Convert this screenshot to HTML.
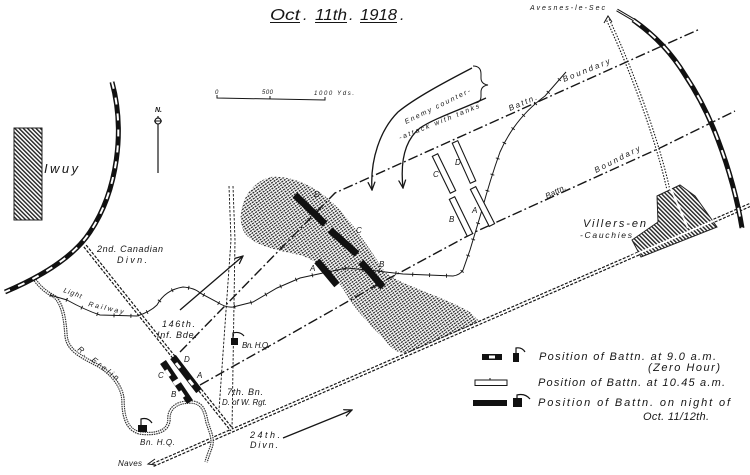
<!DOCTYPE html>
<html><head><meta charset="utf-8"><style>
html,body{margin:0;padding:0;background:#fff;width:750px;height:475px;overflow:hidden}
svg{display:block}
text{font-family:"Liberation Sans",sans-serif;font-style:italic;fill:#161616}
</style></head><body>
<svg width="750" height="475" viewBox="0 0 750 475" xmlns="http://www.w3.org/2000/svg">
<defs>
<pattern id="hatch" width="3" height="3" patternUnits="userSpaceOnUse" patternTransform="rotate(-45)">
<rect width="3" height="3" fill="#fff"/><rect width="1.4" height="3" fill="#222"/>
</pattern>
<pattern id="stip" width="3" height="2.5" patternUnits="userSpaceOnUse" patternTransform="rotate(-35)">
<rect width="3" height="2.5" fill="#fff"/><rect width="2.1" height="1.3" fill="#222"/>
</pattern>
<marker id="ar" viewBox="0 0 10 10" refX="9" refY="5" markerWidth="9" markerHeight="9" markerUnits="userSpaceOnUse" orient="auto"><path d="M0,1 L9,5 L0,9" fill="none" stroke="#161616" stroke-width="1.4"/></marker>
</defs>
<rect width="750" height="475" fill="#fff"/>

<!-- Title -->
<text x="270" y="20" font-size="16" textLength="30" lengthAdjust="spacingAndGlyphs">Oct</text>
<text x="303" y="20" font-size="16">.</text>
<text x="315" y="20" font-size="16" textLength="32" lengthAdjust="spacingAndGlyphs">11th</text>
<text x="349" y="20" font-size="16">.</text>
<text x="360" y="20" font-size="16" textLength="37" lengthAdjust="spacingAndGlyphs">1918</text>
<text x="400" y="20" font-size="16">.</text>
<g stroke="#161616" stroke-width="1">
<line x1="270" y1="22.5" x2="300" y2="22.5"/><line x1="315" y1="22.5" x2="347" y2="22.5"/><line x1="360" y1="22.5" x2="397" y2="22.5"/>
</g>

<!-- Iwuy -->
<rect x="14" y="128" width="28" height="92" fill="url(#hatch)" stroke="#222" stroke-width="1"/>
<text x="44" y="173" font-size="13" textLength="34">Iwuy</text>

<!-- North arrow -->
<line x1="158" y1="116" x2="158" y2="173" stroke="#161616" stroke-width="1.2"/>
<circle cx="158" cy="121" r="3" fill="#fff" stroke="#161616" stroke-width="1.2"/>
<line x1="154" y1="121" x2="162" y2="121" stroke="#161616" stroke-width="1"/>
<text x="155" y="112" font-size="7" font-weight="bold">N.</text>

<!-- Scale -->
<path d="M217,95 L217,98 L325,100 L325,97 M270,99 L270,96" fill="none" stroke="#161616" stroke-width="1"/>
<text x="215" y="94" font-size="6">0</text>
<text x="262" y="94" font-size="6" textLength="11">500</text>
<text x="314" y="95" font-size="6" textLength="40">1000 Yds.</text>

<!-- Hill stipple -->
<path d="M270,177 C290,175 315,185 335,205 C355,225 370,250 385,272 C400,285 440,295 470,312 L480,322 C465,330 440,338 415,352 C400,356 392,350 385,340 C370,325 355,310 345,292 C335,275 320,262 300,255 C275,250 250,245 243,230 C236,212 245,185 270,177 Z" fill="url(#stip)"/>

<!-- Roads (double dashed) -->
<g fill="none">
<path d="M153,465 L750,205" stroke="#161616" stroke-width="4.2" stroke-dasharray="3 1.5"/>
<path d="M153,465 L750,205" stroke="#fff" stroke-width="1.8"/>
<path d="M85,246 L232,430" stroke="#161616" stroke-width="4.2" stroke-dasharray="3 1.5"/>
<path d="M85,246 L232,430" stroke="#fff" stroke-width="1.8"/>
<path d="M229,186 L231,240 L219,410" stroke="#161616" stroke-width="0.9" stroke-dasharray="2.5 1.5"/>
<path d="M233,186 L235,240 L232,430" stroke="#161616" stroke-width="0.9" stroke-dasharray="2.5 1.5"/>
<path d="M608,20 C625,55 655,130 668,188" stroke="#161616" stroke-width="4" stroke-dasharray="1.5 1.5"/>
<path d="M608,20 C625,55 655,130 668,188" stroke="#fff" stroke-width="1.8"/>
<path d="M604,23 L608,16 L612,22" stroke="#161616" stroke-width="1"/>
<path d="M155,459 L148,464 L156,465" stroke="#161616" stroke-width="1"/>
</g>

<!-- Villers -->
<path d="M657,196 L680,185 L695,196 L717,227 L641,257 L632,240 L658,222 Z" fill="url(#hatch)" stroke="#222" stroke-width="1"/>
<line x1="670" y1="187" x2="688" y2="228" stroke="#fff" stroke-width="2"/>
<line x1="632" y1="256" x2="718" y2="219" stroke="#fff" stroke-width="2"/>

<!-- River -->
<path d="M35,280 C42,290 50,294 55,297 C63,305 65,320 66,335 C67,350 80,356 97,365 C110,372 122,385 123,400 C123,415 126,430 140,433 C155,435 168,432 169,420 C168,410 175,402 190,402 C203,402 205,412 207,422 C210,432 215,440 210,450 L206,462" fill="none" stroke="#333" stroke-width="3.5" stroke-dasharray="1.5 0.8"/>
<path d="M35,280 C42,290 50,294 55,297 C63,305 65,320 66,335 C67,350 80,356 97,365 C110,372 122,385 123,400 C123,415 126,430 140,433 C155,435 168,432 169,420 C168,410 175,402 190,402 C203,402 205,412 207,422 C210,432 215,440 210,450 L206,462" fill="none" stroke="#fff" stroke-width="1.2"/>

<!-- Railway arcs -->
<path d="M112,82 C125,130 118,190 90,232 C75,255 45,275 5,292" fill="none" stroke="#111" stroke-width="5"/>
<path d="M112,82 C125,130 118,190 90,232 C75,255 45,275 5,292" fill="none" stroke="#fff" stroke-width="2" stroke-dasharray="7 9"/>
<path d="M633,20 Q665,42 685,75 Q705,105 718,140 Q735,185 742,228" fill="none" stroke="#111" stroke-width="5"/>
<path d="M633,20 Q665,42 685,75 Q705,105 718,140 Q735,185 742,228" fill="none" stroke="#fff" stroke-width="2" stroke-dasharray="9 11"/>
<path d="M617,10 L634,20" stroke="#111" stroke-width="3"/>
<path d="M617,10 L634,20" stroke="#fff" stroke-width="1"/>

<!-- Light railway -->
<path d="M50,295 L67,300 Q85,310 100,315 L137,316 Q150,312 157,305 Q165,290 183,287 Q195,288 200,293 L217,302 Q226,308 233,307 L253,302 L277,288 L300,278 L323,273 L347,268 L377,271 L403,274 L453,276 Q460,275 463,270 L470,250 L482,210 Q490,180 500,152 Q515,118 545,96 L566,72" fill="none" stroke="#161616" stroke-width="1"/>
<path d="M50,295 L67,300 Q85,310 100,315 L137,316 Q150,312 157,305 Q165,290 183,287 Q195,288 200,293 L217,302 Q226,308 233,307 L253,302 L277,288 L300,278 L323,273 L347,268 L377,271 L403,274 L453,276 Q460,275 463,270 L470,250 L482,210 Q490,180 500,152 Q515,118 545,96 L566,72" fill="none" stroke="#161616" stroke-width="4" stroke-dasharray="0.9 16"/>

<!-- Boundaries -->
<g fill="none" stroke="#161616" stroke-width="1.4" stroke-dasharray="10 3 1.8 3">
<path d="M180,352 L335,193 L682,37 L700,29"/>
<path d="M200,385 L280,340 L375,286 L475,232 L662,147 L735,111"/>
</g>

<!-- Arrows -->
<g fill="none" stroke="#161616" stroke-width="1.3" marker-end="url(#ar)">
<path d="M180,310 L243,256"/>
<path d="M283,438 L352,410"/>
<path d="M472,68 C445,82 415,98 398,112 C380,130 370,160 372,190"/>
<path d="M486,98 C460,110 435,118 420,128 C405,140 400,160 403,188"/>
</g>
<path d="M473,66 Q481,66 481,74 L481,78 Q481,84 488,85 Q481,86 481,92 L481,96 Q481,103 474,103" fill="none" stroke="#161616" stroke-width="1"/>

<!-- Night positions -->
<g stroke="#111" stroke-width="7">
<line x1="295" y1="195" x2="325" y2="224"/>
<line x1="330" y1="230" x2="357" y2="254"/>
<line x1="361" y1="262" x2="383" y2="287"/>
<line x1="317" y1="261" x2="337" y2="285"/>
</g>

<!-- 9 am positions -->
<g stroke="#111" stroke-width="7">
<line x1="163" y1="362" x2="190" y2="402"/>
<line x1="173" y1="357" x2="199" y2="391"/>
</g>
<g stroke="#fff" stroke-width="3">
<line x1="166" y1="370" x2="170" y2="376"/><line x1="180" y1="391" x2="184" y2="397"/>
<line x1="176" y1="363" x2="180" y2="368"/><line x1="189" y1="380" x2="193" y2="385"/>
</g>
<line x1="175.5" y1="380" x2="178" y2="384" stroke="#fff" stroke-width="7"/>

<!-- 10.45 positions -->
<g fill="#fff" stroke="#161616" stroke-width="1.1">
<rect x="-20.5" y="-3" width="41" height="6" transform="translate(444,173.5) rotate(64)"/>
<rect x="-22" y="-3" width="44" height="6" transform="translate(464,162) rotate(65.8)"/>
<rect x="-20.5" y="-3" width="41" height="6" transform="translate(461,216.5) rotate(64)"/>
<rect x="-20.8" y="-3" width="41.6" height="6" transform="translate(482.5,206.5) rotate(63)"/>
</g>

<!-- HQ icons -->
<g fill="#111" stroke="#111" stroke-width="1.2">
<rect x="231" y="338" width="7" height="7" stroke="none"/>
<path d="M233,338 L233,333 Q240,331 244,336" fill="none"/>
<rect x="138" y="425" width="9" height="7" stroke="none"/>
<path d="M141,425 L141,419 Q148,417 152,423" fill="none"/>
</g>

<!-- Labels -->
<g font-size="8">
<text x="314" y="197">D</text><text x="356" y="233">C</text><text x="379" y="267">B</text><text x="310" y="271">A</text>
<text x="455" y="165">D</text><text x="433" y="177">C</text><text x="449" y="222">B</text><text x="472" y="213">A</text>
<text x="184" y="362">D</text><text x="158" y="378">C</text><text x="197" y="378">A</text><text x="171" y="397">B</text>
</g>
<text x="97" y="252" font-size="9" textLength="66">2nd. Canadian</text>
<text x="117" y="263" font-size="9" textLength="30">Divn.</text>
<text x="63" y="292" font-size="7" textLength="19" transform="rotate(20 63 292)">Light</text>
<text x="88" y="306" font-size="7" textLength="36" transform="rotate(13 88 306)">Railway</text>
<text x="162" y="327" font-size="9" textLength="33">146th.</text>
<text x="157" y="338" font-size="9" textLength="40">Inf. Bde.</text>
<text x="242" y="348" font-size="8" textLength="28">Bn. H.Q.</text>
<text x="227" y="395" font-size="9" textLength="36">7th. Bn.</text>
<text x="222" y="405" font-size="8" textLength="45">D. of W. Rgt.</text>
<text x="250" y="438" font-size="9" textLength="30">24th.</text>
<text x="250" y="448" font-size="9" textLength="28">Divn.</text>
<text x="140" y="445" font-size="8" textLength="35">Bn. H.Q.</text>
<text x="118" y="466" font-size="8" textLength="24">Naves</text>
<text x="77" y="350" font-size="8" textLength="50" transform="rotate(38 77 350)">R. Erclin</text>
<text x="530" y="10" font-size="7" textLength="75">Avesnes-le-Sec</text>
<text x="583" y="227" font-size="11" textLength="63">Villers-en</text>
<text x="580" y="238" font-size="8.5" textLength="52">-Cauchies</text>
<text x="510" y="111" font-size="8" textLength="30" transform="rotate(-23 510 111)">Battn.</text>
<text x="564" y="82" font-size="8" textLength="50" transform="rotate(-22 564 82)">Boundary</text>
<text x="547" y="199" font-size="8" textLength="22" transform="rotate(-27 547 199)">Battn.</text>
<text x="596" y="173" font-size="8" textLength="50" transform="rotate(-27 596 173)">Boundary</text>
<text x="406" y="124" font-size="7" textLength="72" transform="rotate(-26 406 124)">Enemy counter-</text>
<text x="400" y="140" font-size="7" textLength="86" transform="rotate(-22 400 140)">-attack with tanks</text>

<!-- Legend -->
<rect x="482" y="354" width="20" height="6" fill="#111"/>
<rect x="489" y="355.5" width="6" height="3" fill="#fff"/>
<rect x="513" y="353" width="6" height="9" fill="#111"/>
<path d="M516,353 L516,348 Q522,347 525,352" fill="none" stroke="#111" stroke-width="1.2"/>
<rect x="475" y="380" width="32" height="5.5" fill="#fff" stroke="#161616" stroke-width="1"/>
<line x1="490" y1="380" x2="490" y2="378" stroke="#161616" stroke-width="1"/>
<rect x="473" y="400" width="34" height="6" fill="#111"/>
<rect x="513" y="398" width="9" height="9" fill="#111"/>
<path d="M517,398 L517,395 Q525,393 530,399" fill="none" stroke="#111" stroke-width="1.2"/>
<g font-size="11">
<text x="539" y="360" textLength="177">Position of Battn. at 9.0 a.m.</text>
<text x="648" y="371" textLength="72">(Zero Hour)</text>
<text x="538" y="386" textLength="187">Position of Battn. at 10.45 a.m.</text>
<text x="538" y="406" textLength="192">Position of Battn. on night of</text>
<text x="643" y="420" textLength="66">Oct. 11/12th.</text>
</g>
</svg>
</body></html>
